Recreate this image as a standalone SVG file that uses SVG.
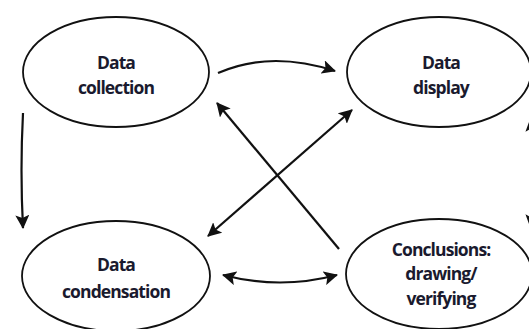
<svg xmlns="http://www.w3.org/2000/svg" width="529" height="329" viewBox="0 0 529 329">
  <style>
    .node ellipse { fill: #ffffff; stroke: #111111; stroke-width: 1.8; }
    .node text { font-family: "Open Sans", "Noto Sans", sans-serif; font-size: 17.5px; font-weight: 700; fill: #1a1a2e; text-anchor: middle; letter-spacing: -0.9px; }
    .edges path { fill: none; stroke: #111111; stroke-width: 2.2; }
  </style>
  <defs>
    <marker id="head" viewBox="0 0 14 14" refX="13" refY="7" markerWidth="14" markerHeight="14" markerUnits="userSpaceOnUse" orient="auto-start-reverse">
      <path d="M0,0 L14,7 L0,14 L3,7 z" fill="#111111"/>
    </marker>
  </defs>
  <rect width="529" height="329" fill="#ffffff"/>

  <g id="data-collection" class="node">
    <ellipse cx="116" cy="72" rx="93" ry="55"/>
    <text x="116" y="69">Data</text>
    <text x="116" y="94">collection</text>
  </g>

  <g id="data-display" class="node">
    <ellipse cx="439" cy="72" rx="92" ry="55"/>
    <text x="441" y="69">Data</text>
    <text x="441" y="94">display</text>
  </g>

  <g id="data-condensation" class="node">
    <ellipse cx="116" cy="276" rx="94" ry="55"/>
    <text x="116" y="271">Data</text>
    <text x="116" y="298">condensation</text>
  </g>

  <g id="conclusions" class="node">
    <ellipse cx="439" cy="274" rx="93" ry="55"/>
    <text x="441" y="256">Conclusions:</text>
    <text x="441" y="280">drawing/</text>
    <text x="441" y="305">verifying</text>
  </g>

  <g id="connectors" class="edges">
    <!-- collection to display -->
    <path d="M218,73 Q270,50 335,71" marker-end="url(#head)"/>
    <!-- condensation to and from conclusions -->
    <path d="M223,275 Q280,290 337,275" marker-start="url(#head)" marker-end="url(#head)"/>
    <!-- collection down to condensation -->
    <path d="M23,113 Q20,170 23,228" marker-end="url(#head)"/>
    <!-- conclusions back to collection -->
    <path d="M339,249 L217,103" marker-end="url(#head)"/>
    <!-- display and condensation -->
    <path d="M352,110 L208,236" marker-start="url(#head)" marker-end="url(#head)"/>
    <!-- display and conclusions, right side -->
    <path d="M531,118 Q537,173 531,228" marker-start="url(#head)" marker-end="url(#head)"/>
  </g>
</svg>
